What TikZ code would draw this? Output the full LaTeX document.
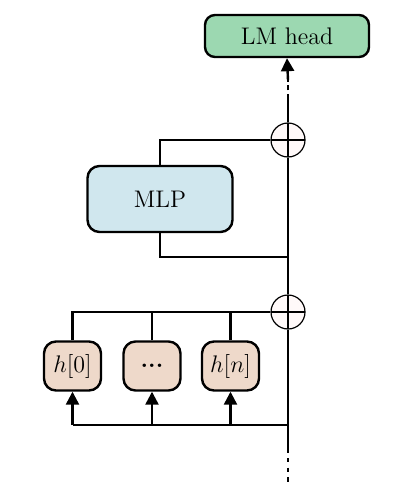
\documentclass[tikz,border=0pt]{standalone}
\usetikzlibrary{arrows.meta}
\definecolor{lmgreen}{HTML}{9CD8B1}
\definecolor{mlpblue}{HTML}{D0E7EE}
\definecolor{htan}{HTML}{EED9CA}
\definecolor{addfill}{HTML}{FFF9F9}
\begin{document}
\begin{tikzpicture}[x=0.5pt,y=-0.5pt,
  font=\fontsize{12}{14}\selectfont,
  conn/.style={line width=1.2pt},
  arr/.style={line width=1.2pt,-{Triangle[length=6.5pt,width=6.5pt]}},
  dashline/.style={dash pattern=on 2.5pt off 1.8pt},
  dotline/.style={dash pattern=on 2.2pt off 2.6pt,dash phase=-3pt},
  lmbox/.style={draw,line width=1.2pt,rounded corners=5pt,fill=lmgreen,minimum width=82pt,minimum height=21pt,inner sep=0pt},
  mlpbox/.style={draw,line width=1.2pt,rounded corners=6pt,fill=mlpblue,minimum width=72.5pt,minimum height=33pt,inner sep=0pt},
  hbox/.style={draw,line width=1.2pt,rounded corners=6pt,fill=htan,minimum width=28.5pt,minimum height=24.5pt,inner sep=0pt},
  addc/.style={draw,circle,line width=0.6pt,fill=addfill,minimum size=17pt,inner sep=0pt,
    path picture={\draw[line width=0.6pt] (path picture bounding box.north) -- (path picture bounding box.south)
      (path picture bounding box.west) -- (path picture bounding box.east);}}
]
\useasboundingbox (0,0) rectangle (408,487);
\node[lmbox] (lm) at (287,36) {LM head};
\node[mlpbox] (mlp) at (160,199) {MLP};
\node[hbox] (h0) at (72.5,366) {$h[0]$};
\node[hbox] (hd) at (152,366) {\textbf{...}};
\node[hbox] (hn) at (230.5,366) {$h[n]$};
\node[addc] (a1) at (288,140) {};
\node[addc] (a2) at (288,312) {};
\coordinate (bot) at (288,452);
\coordinate (botend) at (288,485);
\coordinate (dsh) at (288,99);
\coordinate (dshend) at (288,80);
\coordinate (mlpin) at (288,257);
\coordinate (bus) at (288,425);
\coordinate (b0) at (h0.south |- bus);
\coordinate (bd) at (hd.south |- bus);
\coordinate (bn) at (hn.south |- bus);
% main residual stream
\draw[conn] (bot) -- (a2.south);
\draw[conn] (a2.north) -- (a1.south);
\draw[conn] (a1.north) -- (dsh);
\draw[conn,dashline] (dsh) -- (dshend);
\draw[arr] (dshend) -- (lm.south);
\draw[conn,dotline] (bot) -- (botend);
% MLP branch
\draw[conn] (mlpin) -| (mlp.south);
\draw[conn] (mlp.north) |- (a1.west);
% heads branch
\draw[conn] (bus) -- (b0);
\draw[arr] (b0) -- (h0.south);
\draw[arr] (bd) -- (hd.south);
\draw[arr] (bn) -- (hn.south);
\draw[conn] (h0.north) |- (a2.west);
\draw[conn] (hd.north) -- (hd.north |- a2.west);
\draw[conn] (hn.north) -- (hn.north |- a2.west);
\end{tikzpicture}
\end{document}
